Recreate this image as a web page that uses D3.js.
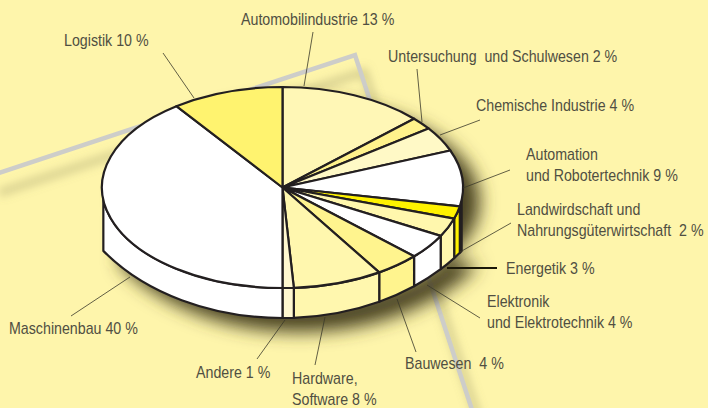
<!DOCTYPE html>
<html>
<head>
<meta charset="utf-8">
<script src="https://cdn.jsdelivr.net/npm/d3@7"></script>
<style>
  html, body { margin: 0; padding: 0; background: #fef5ab; overflow: hidden; }
  text { font-family: "Liberation Sans", sans-serif; font-size: 16px; fill: #504f42; white-space: pre; }
</style>
</head>
<body>
<div class="chart-container"></div>
<script>
// Clockwise from 12 o'clock
const categories = ["Automobilindustrie", "Untersuchung und Schulwesen", "Chemische Industrie",
    "Automation und Robotertechnik", "Landwirdschaft und Nahrungsgüterwirtschaft", "Energetik",
    "Elektronik und Elektrotechnik", "Bauwesen", "Hardware, Software", "Andere", "Maschinenbau", "Logistik"];
const shares = [13, 2, 4, 9, 2, 3, 4, 4, 8, 1, 40, 10];
const labelLines = [
    ["Automobilindustrie 13 %"],
    ["Untersuchung  und Schulwesen 2 %"],
    ["Chemische Industrie 4 %"],
    ["Automation", "und Robotertechnik 9 %"],
    ["Landwirdschaft und", "Nahrungsgüterwirtschaft  2 %"],
    ["Energetik 3 %"],
    ["Elektronik", "und Elektrotechnik 4 %"],
    ["Bauwesen  4 %"],
    ["Hardware,", "Software 8 %"],
    ["Andere 1 %"],
    ["Maschinenbau 40 %"],
    ["Logistik 10 %"]
];
const sliceColors = ["#fff7b6", "#fff28c", "#fff9c6", "#ffffff", "#fff200", "#fff7ad",
    "#ffffff", "#fff48e", "#fff7ae", "#fff8d0", "#ffffff", "#fff36f"];

// Layout, apart from the values: label anchor [x, first baseline] and leader [x1, y1, x2, y2]
const labelPos = [[241, 25], [388, 62], [476, 111], [526, 160], [517, 215], [506, 274],
    [487, 307], [405, 369], [292, 384], [196, 378], [9, 334], [64, 46]];
const leaders = [[304, 86, 313, 32], [422, 122, 417, 69], [440, 135, 480, 120], [463, 188, 510, 170],
    [460, 252, 511, 223], [447, 268, 497, 268], [427, 285, 480, 318], [397, 299, 416, 352],
    [325, 317, 315, 365], [285, 320, 257, 359], [130, 277, 71, 316], [194, 98, 163, 53]];

const width = 708;
const height = 408;
const lineHeight = 21;
// No condensed face installed, so the text is squeezed sideways
const textSqueeze = 0.89;

const svg = d3.select(".chart-container")
    .append("svg")
        .attr("width", width)
        .attr("height", height)
        .style("display", "block");

const defs = svg.append("defs");
defs.append("filter").attr("id", "blurBig")
        .attr("x", "-20%").attr("y", "-20%").attr("width", "140%").attr("height", "140%")
    .append("feGaussianBlur").attr("stdDeviation", 9);
defs.append("filter").attr("id", "blurSmall")
        .attr("x", "-20%").attr("y", "-20%").attr("width", "140%").attr("height", "140%")
    .append("feGaussianBlur").attr("stdDeviation", 5);

svg.append("rect").attr("width", width).attr("height", height).attr("fill", "#fef5ab");

// Unit circle -> pixels, the top face is an ellipse
const xScale = d3.scaleLinear().domain([-1, 1]).range([102, 463]);
const yScale = d3.scaleLinear().domain([-1, 1]).range([87, 288]);
const rx = xScale(1) - xScale(0);
const ry = yScale(1) - yScale(0);
const cx = xScale(0);
const cy = yScale(0);

// Lower rim is a flatter, wider ellipse than the top face
const rimRx = 220;
const rimRy = 160;
const rimCy = 158;
const wallFrom = 97 * Math.PI / 180;
const wallTo = 263 * Math.PI / 180;

const topX = a => xScale(Math.sin(a));
const topY = a => yScale(-Math.cos(a));
const rimY = x => rimCy + rimRy * Math.sqrt(1 - ((x - cx) / rimRx) ** 2);

const slices = d3.pie().sort(null).value(d => d)(shares);

function topPath(d) {
    const large = d.endAngle - d.startAngle > Math.PI ? 1 : 0;
    return `M${cx},${cy}L${topX(d.startAngle)},${topY(d.startAngle)}` +
        `A${rx},${ry} 0 ${large} 1 ${topX(d.endAngle)},${topY(d.endAngle)}Z`;
}

function wallPath(a0, a1) {
    const x0 = topX(a0), x1 = topX(a1);
    return `M${x0},${topY(a0)}A${rx},${ry} 0 0 1 ${x1},${topY(a1)}` +
        `L${x1},${rimY(x1)}A${rimRx},${rimRy} 0 0 0 ${x0},${rimY(x0)}Z`;
}

// Outline of the whole body, used for the drop shadow
const bodyOutline = `M${xScale(-1)},${cy}A${rx},${ry} 0 0 1 ${xScale(1)},${cy}` + wallPath(wallFrom, wallTo).replace(/^M[^A]*/, `L${topX(wallFrom)},${topY(wallFrom)}`);

// Grey frame behind the pie
const frame = d3.line()([[-10, 176], [355, 55], [482, 440]]);
svg.append("path")
    .attr("d", frame)
    .attr("transform", "translate(9,17)")
    .attr("fill", "none")
    .attr("stroke", "#8f8a5c")
    .attr("stroke-opacity", 0.4)
    .attr("stroke-width", 7)
    .attr("filter", "url(#blurSmall)");
svg.append("path")
    .attr("d", frame)
    .attr("fill", "none")
    .attr("stroke", "#cdcdc9")
    .attr("stroke-width", 4.5);

svg.append("path")
    .attr("d", bodyOutline)
    .attr("transform", "translate(17,14)")
    .attr("fill", "#484324")
    .attr("filter", "url(#blurBig)");

// Walls first, top face over them
const walls = slices
    .filter(d => d.endAngle > wallFrom && d.startAngle < wallTo)
    .map(d => ({
        a0: Math.max(d.startAngle, wallFrom),
        a1: Math.min(d.endAngle, wallTo),
        index: d.index
    }));

svg.append("g").selectAll("path")
    .data(walls)
    .join("path")
        .attr("d", d => wallPath(d.a0, d.a1))
        .attr("fill", d => sliceColors[d.index])
        .attr("stroke", "#231f20")
        .attr("stroke-width", 2.2)
        .attr("stroke-linejoin", "round");

svg.append("g").selectAll("path")
    .data(slices)
    .join("path")
        .attr("d", topPath)
        .attr("fill", d => sliceColors[d.index])
        .attr("stroke", "#231f20")
        .attr("stroke-width", 2.2)
        .attr("stroke-linejoin", "round");

svg.append("g").selectAll("line")
    .data(leaders)
    .join("line")
        .attr("x1", d => d[0])
        .attr("y1", d => d[1])
        .attr("x2", d => d[2])
        .attr("y2", d => d[3])
        .attr("stroke", (d, i) => categories[i] === "Energetik" ? "#1a1708" : "#3a382a")
        .attr("stroke-width", (d, i) => categories[i] === "Energetik" ? 2 : 0.8);

const labels = svg.append("g").selectAll("text")
    .data(labelLines)
    .join("text")
        .attr("transform", (d, i) => `translate(${labelPos[i][0]},${labelPos[i][1]}) scale(${textSqueeze},1)`);

labels.selectAll("tspan")
    .data(d => d)
    .join("tspan")
        .attr("x", 0)
        .attr("y", (d, i) => i * lineHeight)
        .text(d => d);
</script>
</body>
</html>
